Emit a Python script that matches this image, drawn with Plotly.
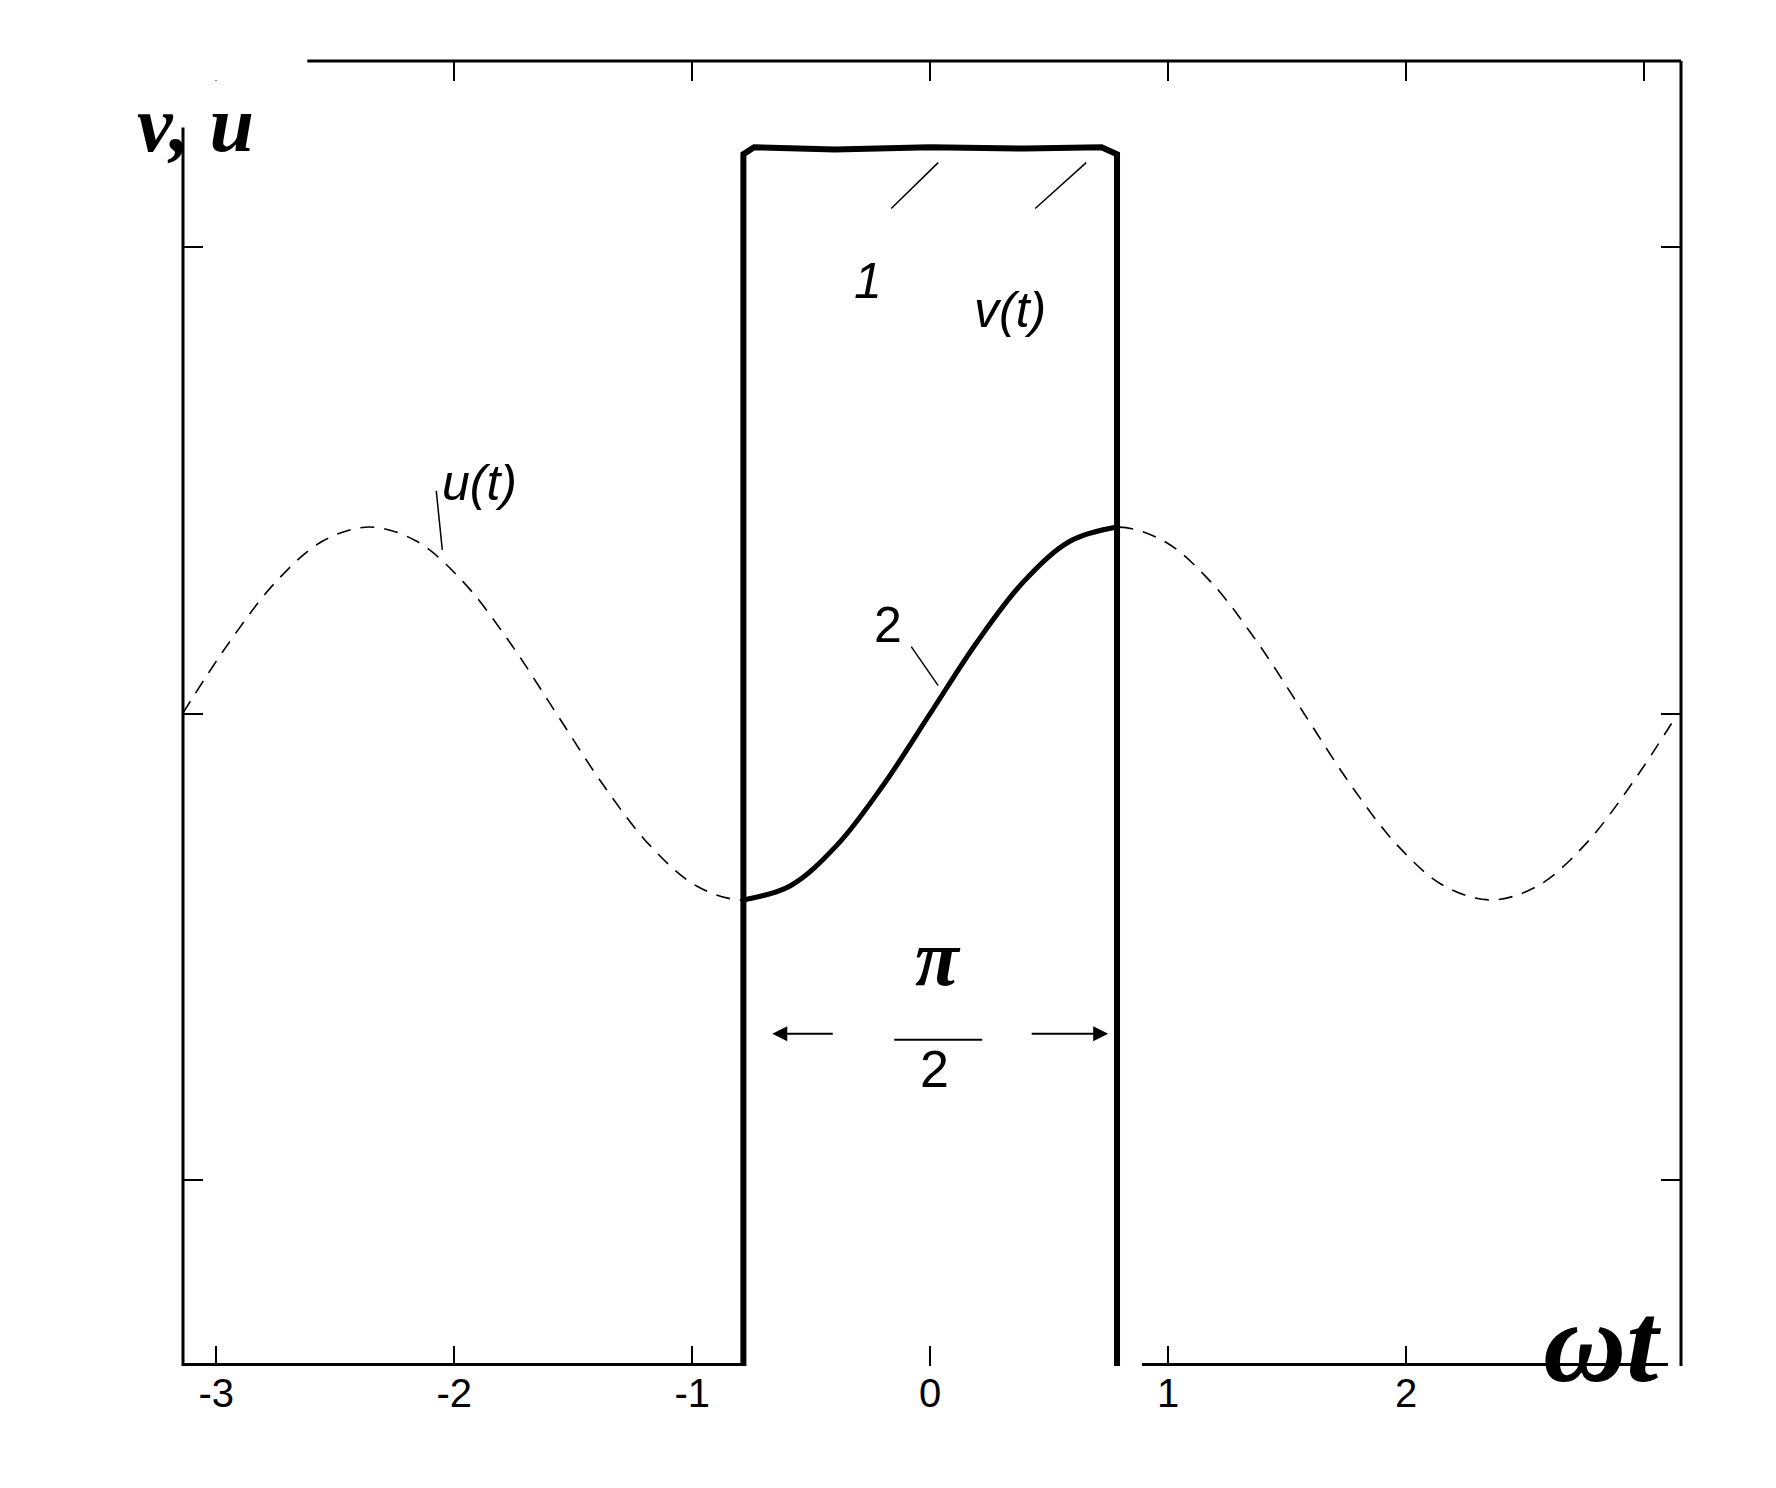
import plotly.graph_objects as go

# u(t) (x in rad, step pi/16)
u_x = [-3.1416 + k * 0.19635 for k in range(33)]
u_y = [0, 0.153, 0.283, 0.370, 0.4, 0.370, 0.283, 0.153, 0, -0.153, -0.283, -0.370, -0.4, -0.370, -0.283, -0.153,
       0, 0.153, 0.283, 0.370, 0.4, 0.370, 0.283, 0.153, 0, -0.153, -0.283, -0.370, -0.4, -0.370, -0.283, -0.153, 0]
# v(t) pulse
v_x = [-3.14, -0.785, -0.785, -0.74, -0.4, 0.0, 0.4, 0.72, 0.785, 0.785, None, 0.89, 3.1]
v_y = [-1.4, -1.4, 1.2, 1.215, 1.21, 1.215, 1.212, 1.215, 1.2, -1.42, None, -1.4, -1.4]
x_ticks = [-3, -2, -1, 0, 1, 2, 3]
x_labels = ["-3", "-2", "-1", "0", "1", "2", ""]

def X(px): return (px - 922) / 238.0
def Y(py): return (707 - py) / 467.0
def PX(px): return (px - 175) / 1498.0
def PY(py): return (1358 - py) / 1305.0

fig = go.Figure()
fig.add_trace(go.Scatter(x=u_x, y=u_y, mode="lines", line=dict(color="black", width=1.6, dash="14px,10px", shape="spline"), cliponaxis=False))
sx = [x for x in u_x if -0.80 <= x <= 0.80]
sy = [y for x, y in zip(u_x, u_y) if -0.80 <= x <= 0.80]
fig.add_trace(go.Scatter(x=sx, y=sy, mode="lines", line=dict(color="black", width=5, shape="spline"), cliponaxis=False))
fig.add_trace(go.Scatter(x=v_x, y=v_y, mode="lines", line=dict(color="black", width=6), cliponaxis=False))

ax = dict(showgrid=False, zeroline=False, showline=False, ticks="inside", ticklen=20, tickwidth=2, tickcolor="black", mirror="ticks")
fig.update_xaxes(range=[-3.14, 3.155], tickvals=x_ticks, ticktext=x_labels, tickfont=dict(family="Liberation Sans", size=40, color="black"), **ax)
fig.update_yaxes(range=[-1.4, 1.4], tickvals=[-1, 0, 1], showticklabels=False, **ax)

sh = []
sh.append(dict(type="line", xref="paper", yref="paper", x0=0, x1=0, y0=0, y1=0.949, line=dict(color="black", width=3)))
sh.append(dict(type="line", xref="paper", yref="paper", x0=0.083, x1=1, y0=1, y1=1, line=dict(color="black", width=3)))
sh.append(dict(type="line", xref="paper", yref="paper", x0=1, x1=1, y0=0, y1=1, line=dict(color="black", width=3)))
sh.append(dict(type="rect", xref="paper", yref="paper", x0=-0.01, x1=0.08, y0=1.002, y1=0.985, line=dict(width=0), fillcolor="white"))
for (a, b, c, d) in [(883, 201, 930, 155), (1027, 201, 1078, 155), (428, 484, 434, 543), (903, 640, 930, 679)]:
    sh.append(dict(type="line", x0=X(a), y0=Y(b), x1=X(c), y1=Y(d), line=dict(color="black", width=1.5)))
sh.append(dict(type="line", x0=X(886), y0=Y(1034), x1=X(974), y1=Y(1034), line=dict(color="black", width=2)))
fig.update_layout(shapes=sh)

def t(px, py, s, size, fam="Liberation Sans"):
    fig.add_annotation(x=PX(px), y=PY(py), xref="paper", yref="paper", text=s, showarrow=False,
                       font=dict(family=fam, size=size, color="black"))
t(127, 70, "<b><i>v, u</i></b>", 80, "Liberation Serif")
t(1655, 1400, "<b><i>ωt</i></b>", 115, "Liberation Serif")
t(860, 243, "<i>1</i>", 50)
t(1002, 272, "<i>v(t)</i>", 50)
t(432, 445, "<i>u(t)</i>", 50)
t(880, 617, "2", 50)
t(930, 996, "<b><i>π</i></b>", 80, "Liberation Serif")
t(926, 1092, "2", 52)
for (x0, x1) in [(826, 764), (1022, 1100)]:
    fig.add_annotation(x=X(x1), y=Y(1028), ax=X(x0), ay=Y(1028), xref="x", yref="y", axref="x", ayref="y",
                       text="", showarrow=True, arrowhead=2, arrowsize=1.5, arrowwidth=2, arrowcolor="black")

fig.update_layout(width=1776, height=1488, plot_bgcolor="white", paper_bgcolor="white", showlegend=False,
                  margin=dict(l=175, r=103, t=53, b=130))
fig.write_html("out.html")
